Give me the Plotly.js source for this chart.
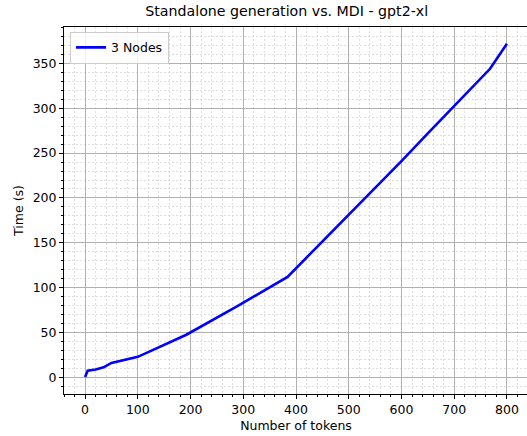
<!DOCTYPE html>
<html>
<head>
<meta charset="utf-8">
<script src="https://cdn.plot.ly/plotly-3.0.1.min.js"></script>
<style>
html,body{margin:0;padding:0;background:#fff;overflow:hidden;width:527px;height:436px;}
#chart{width:528px;height:436px;}
</style>
</head>
<body>
<div id="chart"></div>
<script>
const tokens = [0, 5, 20, 35, 50, 100, 192, 288, 384, 400, 450, 500, 550, 600, 650, 700, 768, 800];
const times = [0.3, 7.5, 8.8, 11.2, 16, 22.8, 47.5, 79, 112, 121.5, 151, 180.5, 210.5, 241, 272, 302, 344, 372];
const seriesName = "3 Nodes";
const chartTitle = "Standalone generation vs. MDI - gpt2-xl";
const xTitle = "Number of tokens";
const yTitle = "Time (s)";

const font = "DejaVu Sans, sans-serif";
const trace = {
  x: tokens, y: times, type: "scatter", mode: "lines", name: seriesName,
  line: {color: "#0000ff", width: 2.6}
};
const axisCommon = {
  showline: true, linecolor: "#000", linewidth: 1, mirror: true,
  ticks: "outside", ticklen: 4, tickwidth: 1, tickcolor: "#000",
  showgrid: true, gridcolor: "#b0b0b0", gridwidth: 1,
  zeroline: false,
  tickfont: {family: font, size: 12.5, color: "#000"}
};
const minorGrid = {showgrid: true, gridcolor: "#d6d6d6", griddash: "2px,2px", gridwidth: 0.8, ticks: "outside", ticklen: 2, tickcolor: "#000"};
const layout = {
  width: 528, height: 436,
  margin: {l: 64, r: 0, t: 27, b: 42},
  paper_bgcolor: "#fff", plot_bgcolor: "#fff",
  title: {text: chartTitle, font: {family: font, size: 14.2, color: "#000"}, x: 0.48, xanchor: "center", xref: "paper", y: 1, yref: "container", yanchor: "top", pad: {t: 6}},
  showlegend: true,
  legend: {x: 0.013, y: 0.987, xanchor: "left", yanchor: "top", bgcolor: "rgba(255,255,255,0.8)", bordercolor: "#cccccc", borderwidth: 1, font: {family: font, size: 12.5, color: "#000"}, itemwidth: 30},
  xaxis: Object.assign({}, axisCommon, {
    range: [-40, 840], tickvals: [0,100,200,300,400,500,600,700,800],
    title: {text: xTitle, font: {family: font, size: 12.5, color: "#000"}, standoff: 5},
    minor: Object.assign({dtick: 20, tick0: 0}, minorGrid)
  }),
  yaxis: Object.assign({}, axisCommon, {
    range: [-18.6, 390.6], tickvals: [0,50,100,150,200,250,300,350],
    title: {text: yTitle, font: {family: font, size: 12.5, color: "#000"}, standoff: 6},
    minor: Object.assign({dtick: 10, tick0: 0}, minorGrid)
  })
};
Plotly.newPlot("chart", [trace], layout, {displayModeBar: false, staticPlot: true});
</script>
</body>
</html>
